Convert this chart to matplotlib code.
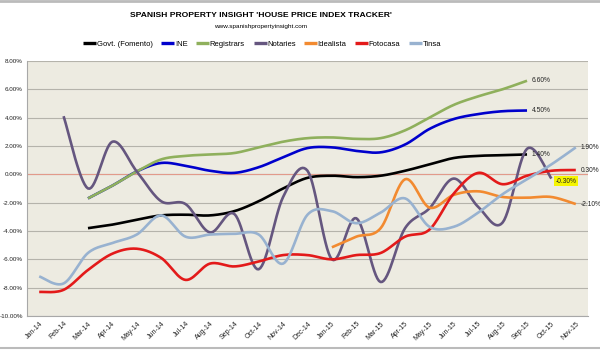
"""
House price index tracker — smoothed multi-series line chart.
"""

import numpy as np
import matplotlib
matplotlib.use("Agg")
import matplotlib.pyplot as plt

# ── Data ───────────────────────────────────────────────────────────────────
nan = np.nan

months = ["Jan-14", "Feb-14", "Mar-14", "Apr-14", "May-14", "Jun-14", "Jul-14",
          "Aug-14", "Sep-14", "Oct-14", "Nov-14", "Dec-14", "Jan-15", "Feb-15",
          "Mar-15", "Apr-15", "May-15", "Jun-15", "Jul-15", "Aug-15", "Sep-15",
          "Oct-15", "Nov-15"]

govt = [nan, nan, -3.8, -3.55, -3.2, -2.9, -2.85, -2.9, -2.6, -1.9, -1.0, -0.25,
        -0.1, -0.2, -0.1, 0.25, 0.7, 1.15, 1.3, 1.35, 1.4, nan, nan]
ine = [nan, nan, -1.7, -0.8, 0.2, 0.8, 0.6, 0.25, 0.1, 0.5, 1.2, 1.85,
       1.9, 1.65, 1.55, 2.1, 3.2, 3.9, 4.25, 4.45, 4.5, nan, nan]
registrars = [nan, nan, -1.7, -0.8, 0.2, 1.05, 1.3, 1.4, 1.5, 1.9, 2.3, 2.55,
              2.6, 2.5, 2.55, 3.1, 4.0, 4.9, 5.5, 6.0, 6.6, nan, nan]
notaries = [nan, 4.1, -1.0, 2.3, 0.2, -1.9, -2.1, -4.1, -2.8, -6.7, -1.6, 0.25,
            -6.0, -3.1, -7.6, -3.8, -2.4, -0.3, -2.3, -3.4, 1.8, -0.3, nan]
idealista = [nan, nan, nan, nan, nan, nan, nan, nan, nan, nan, nan, nan,
             -5.15, -4.4, -3.8, -0.35, -2.35, -1.45, -1.2, -1.6, -1.65, -1.6, -2.1]
fotocasa = [-8.3, -8.15, -6.75, -5.6, -5.25, -5.9, -7.45, -6.3, -6.5, -6.15, -5.7, -5.7,
            -6.0, -5.7, -5.55, -4.4, -3.9, -1.35, 0.1, -0.7, -0.1, 0.25, 0.3]
tinsa = [-7.2, -7.7, -5.55, -4.85, -4.25, -2.9, -4.4, -4.25, -4.2, -4.25, -6.3, -2.85,
         -2.6, -3.45, -2.7, -1.7, -3.7, -3.7, -2.7, -1.4, -0.35, 0.7, 1.9]

series_names = ["Govt. (Fomento)", "INE", "Registrars", "Notaries",
                "Idealista", "Fotocasa", "Tinsa"]
series_values = [govt, ine, registrars, notaries, idealista, fotocasa, tinsa]
series_colors = ["#000000", "#0000CC", "#8FB05C", "#65567F",
                 "#F28A30", "#E31A1A", "#98B2D0"]

# end labels: (series index, point index, text)
end_labels = [(2, 20, "6.60%"), (1, 20, "4.50%"), (0, 20, "1.40%"),
              (6, 22, "1.90%"), (5, 22, "0.30%"), (4, 22, "-2.10%")]
notaries_label = (3, 21, "-0.30%")


def smooth(xs, ys, n=16):
    """Excel-like smoothed line (Catmull-Rom bezier) through the points."""
    xs = np.asarray(xs, float)
    ys = np.asarray(ys, float)
    if len(xs) < 3:
        return xs, ys
    px = np.concatenate([[xs[0]], xs, [xs[-1]]])
    py = np.concatenate([[ys[0]], ys, [ys[-1]]])
    out_x, out_y = [], []
    t = np.linspace(0, 1, n)
    for i in range(1, len(px) - 2):
        p0x, p1x, p2x, p3x = px[i - 1:i + 3]
        p0y, p1y, p2y, p3y = py[i - 1:i + 3]
        c1x, c1y = p1x + (p2x - p0x) / 6, p1y + (p2y - p0y) / 6
        c2x, c2y = p2x - (p3x - p1x) / 6, p2y - (p3y - p1y) / 6
        bx = (1 - t) ** 3 * p1x + 3 * (1 - t) ** 2 * t * c1x + 3 * (1 - t) * t ** 2 * c2x + t ** 3 * p2x
        by = (1 - t) ** 3 * p1y + 3 * (1 - t) ** 2 * t * c1y + 3 * (1 - t) * t ** 2 * c2y + t ** 3 * p2y
        out_x.extend(bx[:-1] if i < len(px) - 3 else bx)
        out_y.extend(by[:-1] if i < len(px) - 3 else by)
    return np.array(out_x), np.array(out_y)


def main():
    plt.rcParams["font.family"] = ["Liberation Sans", "DejaVu Sans"]

    fig = plt.figure(figsize=(6, 3.5), dpi=100)
    ax = fig.add_axes([0.045, 0.097, 0.935, 0.729])
    ax.set_facecolor("#EDEBE1")

    x = np.arange(len(months))
    for name, vals, color in zip(series_names, series_values, series_colors):
        vals = np.asarray(vals, float)
        ok = ~np.isnan(vals)
        sx, sy = smooth(x[ok], vals[ok])
        ax.plot(sx, sy, color=color, lw=1.9, solid_capstyle="butt", label=name, zorder=3)

    ax.axhline(0, color="#E29A8A", lw=0.8, zorder=2)

    for si, pi, txt in end_labels:
        ax.annotate(txt, (pi, series_values[si][pi]), xytext=(3.5, 0),
                    textcoords="offset points", fontsize=4.8, va="center",
                    ha="left", color="#222222", annotation_clip=False, zorder=5)
    si, pi, txt = notaries_label
    ax.annotate(txt, (pi, series_values[si][pi]), xytext=(3, -2),
                textcoords="offset points", fontsize=4.8, va="center", ha="left",
                color="#222222", zorder=5,
                bbox=dict(boxstyle="square,pad=0.25", fc="#F5F500", ec="none"))

    ax.set_xlim(-0.5, len(months) - 0.5)
    ax.set_ylim(-10, 8)
    ax.set_yticks(np.arange(-10, 8.1, 2))
    ax.set_yticklabels([f"{v:.2f}%" for v in np.arange(-10, 8.1, 2)], fontsize=4.5)
    ax.set_xticks(x)
    ax.set_xticklabels(months, rotation=45, ha="right", rotation_mode="anchor",
                       fontsize=5)
    ax.tick_params(axis="both", length=0, pad=3, colors="#222222")
    ax.grid(axis="y", color="#B5B3AB", lw=0.8, zorder=1)
    for side in ["top", "right"]:
        ax.spines[side].set_visible(False)
    ax.spines["left"].set_color("#A8A8A8")
    ax.spines["bottom"].set_color("#A8A8A8")

    fig.text(0.435, 0.955, "SPANISH PROPERTY INSIGHT 'HOUSE PRICE INDEX TRACKER'",
             ha="center", va="center", fontsize=6.1, fontweight="bold")
    fig.text(0.435, 0.924, "www.spanishpropertyinsight.com",
             ha="center", va="center", fontsize=4.6)

    leg = fig.legend(loc="center", bbox_to_anchor=(0.437, 0.873), ncol=7, frameon=False,
                     fontsize=5.5, handlelength=1.7, handletextpad=0.05, columnspacing=1.15,
                     borderaxespad=0)
    for line in leg.get_lines():
        line.set_linewidth(2.4)

    fig.add_artist(plt.Line2D([0, 1], [0.997, 0.997], color="#BBBBBB", lw=2))
    fig.add_artist(plt.Line2D([0, 1], [0.005, 0.005], color="#BBBBBB", lw=1.5))

    fig.savefig("out.png", dpi=100)
    plt.close(fig)


if __name__ == "__main__":
    main()
